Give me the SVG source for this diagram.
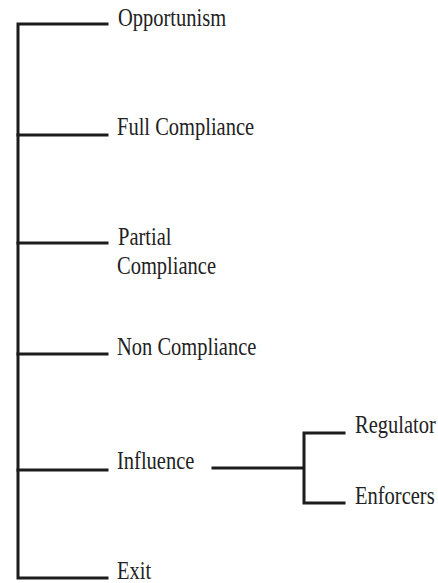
<svg xmlns="http://www.w3.org/2000/svg" width="438" height="583" viewBox="0 0 438 583">
<style>
.c{stroke:#1c1c1c;stroke-width:3;fill:none;stroke-linecap:square;stroke-linejoin:miter}
.t{font-family:'Liberation Serif','Times New Roman',serif;font-size:20.5px;fill:#222}
</style>
<rect width="438" height="583" fill="#fff"/>
<g id="connectors">
<path class="c" d="M107,24 H18 V578 H107"/>
<path class="c" d="M18,135 H107 M18,243 H107 M18,354 H107 M18,470 H107"/>
<path class="c" d="M213,468 H304 M344,433 H304 V503 H344"/>
</g>
<g id="opportunism"><text class="t" transform="translate(118,25.5) scale(1,1.2)">Opportunism</text></g>
<g id="full-compliance"><text class="t" transform="translate(117,134.5) scale(1,1.2)">Full Compliance</text></g>
<g id="partial-compliance"><text class="t" transform="translate(118,245) scale(1,1.2)">Partial</text><text class="t" transform="translate(117,273.5) scale(1,1.2)">Compliance</text></g>
<g id="non-compliance"><text class="t" transform="translate(117,355) scale(1,1.2)">Non Compliance</text></g>
<g id="influence"><text class="t" transform="translate(117,469) scale(1,1.2)">Influence</text></g>
<g id="exit"><text class="t" transform="translate(117,579) scale(1,1.2)">Exit</text></g>
<g id="regulator"><text class="t" transform="translate(355,433) scale(1,1.2)">Regulator</text></g>
<g id="enforcers"><text class="t" transform="translate(355,504) scale(1,1.2)">Enforcers</text></g>
</svg>
